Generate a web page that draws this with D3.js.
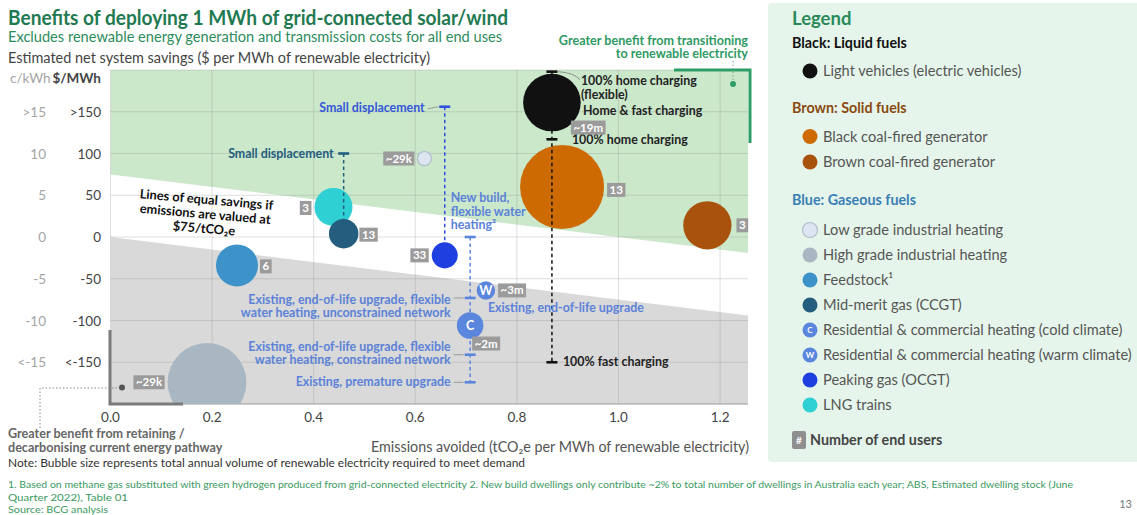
<!DOCTYPE html>
<html><head><meta charset="utf-8">
<script src="https://cdn.jsdelivr.net/npm/d3@7"></script>
<style>
body{margin:0;background:#fff;}
svg{display:block;font-family:Lato,"Open Sans",sans-serif;}
</style>
</head><body>
<svg id="c" width="1137" height="515"></svg>
<script>
// ---------------- DATA ----------------
const xTicks = [0, 0.2, 0.4, 0.6, 0.8, 1.0, 1.2];
const xTickLabels = ["0.0", "0.2", "0.4", "0.6", "0.8", "1.0", "1.2"];
const yTicks = [150, 100, 50, 0, -50, -100, -150];
const yTickLabelsMWh = [">150", "100", "50", "0", "-50", "-100", "<-150"];
const yTickLabelsKWh = [">15", "10", "5", "0", "-5", "-10", "<-15"];
const carbonPrice = 75;              // $/tCO2e
const equalSavingsLevels = [75, 0];  // $/MWh at zero emissions avoided

const endUses = [
  "Light vehicles (electric vehicles)",
  "Black coal-fired generator",
  "Brown coal-fired generator",
  "Low grade industrial heating",
  "High grade industrial heating",
  "Feedstock¹",
  "Mid-merit gas (CCGT)",
  "Residential & commercial heating (cold climate)",
  "Residential & commercial heating (warm climate)",
  "Peaking gas (OCGT)",
  "LNG trains"
];
const emissionsAvoided = [0.869, 0.889, 1.175, 0.618, 0.190, 0.249, 0.459, 0.708, 0.739, 0.658, 0.439];
const netSavings       = [161, 60, 14, 94, -174, -34, 4, -106, -64, -22, 36];
const renewableVolume  = [47, 100, 33, 2.8, 88, 25, 12.3, 10, 4.8, 9.6, 20.5];
const endUsers         = ["~19m", "13", "3", "~29k", "~29k", "6", "13", "~2m", "~3m", "33", "3"];
const bubbleMarks      = ["", "", "", "", "", "", "", "C", "W", "", ""];

const legendGroupTitles = ["Black: Liquid fuels", "Brown: Solid fuels", "Blue: Gaseous fuels"];
const legendGroupItems  = [[0], [1, 2], [3, 4, 5, 6, 7, 8, 9, 10]];

// ranges (sensitivities) per end use
const evRange = [198, 117, -150];
const evRangeLabels = ["100% home charging\n(flexible)", "100% home charging", "100% fast charging"];
const ccgtRange = [100];
const ccgtRangeLabels = ["Small displacement"];
const ocgtRange = [156];
const ocgtRangeLabels = ["Small displacement"];
const heatingRange = [0, -73, -141, -174];
const heatingRangeLabels = [
  "New build,\nflexible water\nheating²",
  "Existing, end-of-life upgrade, flexible\nwater heating, unconstrained network",
  "Existing, end-of-life upgrade, flexible\nwater heating, constrained network",
  "Existing, premature upgrade"
];
const evBubbleLabel = "Home & fast charging";
const warmBubbleLabel = "Existing, end-of-life upgrade";

// ---------------- STYLES ----------------
const bubbleColors = ["#111111", "#cd6a02", "#a8520d", "#dde6f0", "#a9b7c2", "#3d93c9", "#245d7e", "#5a86de", "#5a86de", "#1f3fe0", "#2fd0d3"];
const bubbleStrokes = [null, null, null, "#aebccb", null, null, null, null, null, null, null];
// user box placement: side, extra dx, extra dy
const userBoxPlace = [["br", 19, 18], ["r", 0, 3], ["r", 2, 0], ["l", 0, 0], ["l", 0, 0], ["r", -1, 1], ["r", -2, 1], ["br", 2, 11], ["r", 0, 0], ["l", 0, 0], ["l", 0, 1]];

const GREEN_T = "#1f7a52", GREEN = "#2f9a63";
const LAB = 12.4;
const svg = d3.select("#c");

const x = d3.scaleLinear().domain([0, 1.255]).range([110.5, 748]);
const y = d3.scaleLinear().domain([-200, 200]).range([404, 70]);
const rScale = d3.scaleSqrt().domain([0, 100]).range([0, 42]);
const [x0, x1] = x.range();
const [yb, yt] = y.range();
const xmax = x.domain()[1];

function multiText(g, str, px, py, lh, anchor) {
  const t = g.append("text").attr("x", px).attr("y", py).attr("text-anchor", anchor);
  str.split("\n").forEach((s, i) => t.append("tspan").attr("x", px).attr("dy", i ? lh : 0).text(s));
  return t;
}

// ---------------- HEADER ----------------
svg.append("text").attr("x", 8).attr("y", 25).attr("font-size", 20).attr("font-weight", 700)
  .attr("fill", GREEN_T).attr("textLength", 500).attr("lengthAdjust", "spacingAndGlyphs")
  .text("Benefits of deploying 1 MWh of grid-connected solar/wind");
svg.append("text").attr("x", 8).attr("y", 42).attr("font-size", 14.5).attr("fill", "#2c8c5c")
  .attr("textLength", 494).attr("lengthAdjust", "spacingAndGlyphs")
  .text("Excludes renewable energy generation and transmission costs for all end uses");
svg.append("text").attr("x", 8).attr("y", 63).attr("font-size", 14.5).attr("fill", "#444")
  .attr("textLength", 422).attr("lengthAdjust", "spacingAndGlyphs")
  .text("Estimated net system savings ($ per MWh of renewable electricity)");
svg.append("text").attr("x", 10).attr("y", 83).attr("font-size", 13.5).attr("fill", "#a5a5a5").text("c/kWh");
svg.append("text").attr("x", 101).attr("y", 83).attr("text-anchor", "end").attr("font-size", 13.5).attr("font-weight", 700).attr("fill", "#444").text("$/MWh");

// ---------------- PLOT BACKGROUND ----------------
svg.append("defs").append("clipPath").attr("id", "plotClip")
  .append("rect").attr("x", x0).attr("y", yt).attr("width", x1 - x0).attr("height", yb - yt);
const plot = svg.append("g").attr("clip-path", "url(#plotClip)");
const poly = d3.line().x(d => x(d[0])).y(d => y(d[1]));
const lvlHi = equalSavingsLevels[0], lvlLo = equalSavingsLevels[1];
plot.append("path").attr("fill", "#cbe8cb")
  .attr("d", poly([[0, 200], [xmax, 200], [xmax, lvlHi - carbonPrice * xmax], [0, lvlHi]]) + "Z");
plot.append("path").attr("fill", "#d9d9d9")
  .attr("d", poly([[0, lvlLo], [xmax, lvlLo - carbonPrice * xmax], [xmax, -200], [0, -200]]) + "Z");

// grid
const grid = svg.append("g").attr("stroke", "#8a8a8a").attr("stroke-opacity", 0.28).attr("stroke-width", 1);
xTicks.forEach(v => grid.append("line").attr("x1", x(v)).attr("x2", x(v)).attr("y1", yt).attr("y2", yb));
yTicks.concat([200]).forEach(v => grid.append("line").attr("x1", x0).attr("x2", x1).attr("y1", y(v)).attr("y2", y(v)));
svg.append("line").attr("x1", x0).attr("x2", x1).attr("y1", yb).attr("y2", yb).attr("stroke", "#9a9a9a").attr("stroke-width", 1.2);

// axes labels
xTicks.forEach((v, i) => svg.append("text").attr("x", x(v)).attr("y", 422).attr("text-anchor", "middle")
  .attr("font-size", 13.5).attr("fill", "#444").text(xTickLabels[i]));
yTicks.forEach((v, i) => {
  svg.append("text").attr("x", 101).attr("y", y(v) + 5).attr("text-anchor", "end").attr("font-size", 13.5).attr("fill", "#444").text(yTickLabelsMWh[i]);
  svg.append("text").attr("x", 46).attr("y", y(v) + 5).attr("text-anchor", "end").attr("font-size", 13.5).attr("fill", "#a5a5a5").text(yTickLabelsKWh[i]);
});
svg.append("text").attr("x", 749).attr("y", 452).attr("text-anchor", "end").attr("font-size", 14.5).attr("fill", "#555")
  .attr("textLength", 378).attr("lengthAdjust", "spacingAndGlyphs")
  .text("Emissions avoided (tCO₂e per MWh of renewable electricity)");

// ---------------- RANGES ----------------
const ranges = [
  {idx: 0, vals: evRange, labels: evRangeLabels, color: "#111", lab: "#222", top: true, w: 11,
   place: [["start", 29, 13.5], ["start", 20, 5], ["start", 11, 4]]},
  {idx: 6, vals: ccgtRange, labels: ccgtRangeLabels, color: "#245d7e", lab: "#245d7e", top: true, w: 11,
   place: [["end", -10, 4]]},
  {idx: 9, vals: ocgtRange, labels: ocgtRangeLabels, color: "#2f4fdc", lab: "#3556d8", top: true, w: 11, leader: [0],
   place: [["end", -20, 5]]},
  {idx: 7, vals: heatingRange, labels: heatingRangeLabels, color: "#5a86de", lab: "#5b82d8", top: false, w: 11, leader: [1, 2, 3],
   place: [["start", -19.5, -35], ["end", -19.5, 6], ["end", -19.5, -4], ["end", -19.5, 4]]}
];
const under = svg.append("g"), bubbleLayer = svg.append("g").attr("clip-path", "url(#plotClip)"), over = svg.append("g");

ranges.forEach(rg => {
  const g = rg.top ? over : under;
  const cx = x(emissionsAvoided[rg.idx]);
  const bv = netSavings[rg.idx];
  const br = rScale(renewableVolume[rg.idx]);
  const lo = d3.min(rg.vals), hi = d3.max(rg.vals);
  let yEnd = rg.vals.length > 1 ? y(lo) : y(bv) - br;
  g.append("line").attr("x1", cx).attr("x2", cx).attr("y1", y(hi)).attr("y2", yEnd)
    .attr("stroke", rg.color).attr("stroke-width", 1.5).attr("stroke-dasharray", "3.5,3");
  rg.vals.forEach((v, i) => {
    g.append("line").attr("x1", cx - rg.w / 2).attr("x2", cx + rg.w / 2).attr("y1", y(v)).attr("y2", y(v))
      .attr("stroke", rg.color).attr("stroke-width", 2.6);
    const [anc, dx, dy] = rg.place[i];
    multiText(g, rg.labels[i], cx + dx, y(v) + dy, 13.5, anc)
      .attr("font-size", LAB).attr("font-weight", 700).attr("fill", rg.lab);
    if (rg.leader && rg.leader.includes(i)) {
      g.append("line").attr("x1", cx + dx + 3).attr("x2", cx - rg.w / 2 - 1).attr("y1", y(v) + (i === 0 && rg.idx === 9 ? 2 : 0)).attr("y2", y(v))
        .attr("stroke", "#9a9a9a").attr("stroke-width", 1);
    }
  });
});
// EV top label leader
{
  const cx = x(emissionsAvoided[0]);
  over.append("path").attr("d", `M${cx + 6},${y(evRange[0])} Q${cx + 22},${y(evRange[0]) + 1} ${cx + 28},${y(evRange[0]) + 8}`)
    .attr("fill", "none").attr("stroke", "#777").attr("stroke-width", 0.8);
}

// ---------------- BUBBLES ----------------
const order = d3.range(endUses.length).sort((a, b) => renewableVolume[b] - renewableVolume[a]);
order.forEach(i => {
  const cx = x(emissionsAvoided[i]), cy = y(netSavings[i]), r = rScale(renewableVolume[i]);
  bubbleLayer.append("circle").attr("cx", cx).attr("cy", cy).attr("r", r)
    .attr("fill", bubbleColors[i]).attr("stroke", bubbleStrokes[i] || "none").attr("stroke-width", 1.2);
  if (bubbleMarks[i]) bubbleLayer.append("text").attr("x", cx).attr("y", cy + 4.5).attr("text-anchor", "middle")
    .attr("font-size", 12.5).attr("font-weight", 700).attr("fill", "#fff").text(bubbleMarks[i]);
});
svg.node().appendChild(over.node());

// user count boxes
const boxLayer = svg.append("g");
endUses.forEach((n, i) => {
  const cx = x(emissionsAvoided[i]), cy = y(netSavings[i]), r = rScale(renewableVolume[i]);
  const [side, dx, dy] = userBoxPlace[i];
  const t = boxLayer.append("text").attr("font-size", 11.5).attr("font-weight", 700).attr("fill", "#fff").text(endUsers[i]);
  const tw = t.node().getComputedTextLength();
  const bw = tw + 5, bh = 14;
  let bx, by;
  if (side === "r") { bx = cx + r + 3 + dx; by = cy - bh / 2 + dy; }
  else if (side === "l") { bx = cx - r - 3 - bw + dx; by = cy - bh / 2 + dy; }
  else { bx = cx + dx; by = cy + dy; }
  boxLayer.insert("rect", "text").attr("x", bx).attr("y", by).attr("width", bw).attr("height", bh).attr("fill", "#9b9b9b");
  t.attr("x", bx + bw / 2).attr("y", by + 11).attr("text-anchor", "middle");
});

// bubble annotations
{
  const cx = x(emissionsAvoided[0]), cy = y(netSavings[0]);
  over.append("text").attr("x", cx + 31).attr("y", cy + 12).attr("font-size", LAB).attr("font-weight", 700).attr("fill", "#222").text(evBubbleLabel);
  const wx = x(emissionsAvoided[8]), wy = y(netSavings[8]);
  over.append("text").attr("x", wx + 2).attr("y", wy + 22).attr("font-size", LAB).attr("font-weight", 700).attr("fill", "#5b82d8").text(warmBubbleLabel);
}

// lines of equal savings text
{
  const g = svg.append("g").attr("transform", "rotate(5,205,217)");
  multiText(g, "Lines of equal savings if\nemissions are valued at\n$75/tCO₂e", 205, 204, 14.5, "middle")
    .attr("font-size", 12.8).attr("font-weight", 700).attr("fill", "#111");
}

// green bracket annotation
svg.append("text").attr("x", 748).attr("y", 45).attr("text-anchor", "end").attr("font-size", 12.6).attr("font-weight", 700).attr("fill", GREEN).text("Greater benefit from transitioning");
svg.append("text").attr("x", 748).attr("y", 58).attr("text-anchor", "end").attr("font-size", 12.6).attr("font-weight", 700).attr("fill", GREEN).text("to renewable electricity");
svg.append("path").attr("d", `M674,70 H750 V143`).attr("fill", "none").attr("stroke", "#2e9e68").attr("stroke-width", 3);
svg.append("line").attr("x1", 733).attr("x2", 733).attr("y1", 61).attr("y2", 83).attr("stroke", "#7aa88a").attr("stroke-width", 1).attr("stroke-dasharray", "1.5,2");
svg.append("circle").attr("cx", 733).attr("cy", 84).attr("r", 3).attr("fill", "#2e9e68");

// grey bracket annotation
svg.append("path").attr("d", `M110,330 V404 H183`).attr("fill", "none").attr("stroke", "#7b7b7b").attr("stroke-width", 3);
svg.append("path").attr("d", `M40,428 V388 H118`).attr("fill", "none").attr("stroke", "#888").attr("stroke-width", 1).attr("stroke-dasharray", "1.5,2");
svg.append("circle").attr("cx", 122).attr("cy", 387.5).attr("r", 3).attr("fill", "#555");
svg.append("text").attr("x", 8).attr("y", 438).attr("font-size", 12.6).attr("font-weight", 700).attr("fill", "#666").text("Greater benefit from retaining /");
svg.append("text").attr("x", 8).attr("y", 452).attr("font-size", 12.6).attr("font-weight", 700).attr("fill", "#666").text("decarbonising current energy pathway");

// notes
svg.append("text").attr("x", 8).attr("y", 467).attr("font-size", 11.5).attr("fill", "#333")
  .attr("textLength", 517).attr("lengthAdjust", "spacingAndGlyphs")
  .text("Note: Bubble size represents total annual volume of renewable electricity required to meet demand");
const foot = ["1. Based on methane gas substituted with green hydrogen produced from grid-connected electricity 2. New build dwellings only contribute ~2% to total number of dwellings in Australia each year; ABS, Estimated dwelling stock (June",
  "Quarter 2022), Table 01", "Source: BCG analysis"];
const footW = [1065, 120, 100];
foot.forEach((s, i) => svg.append("text").attr("x", 8).attr("y", 488 + i * 12.5).attr("font-size", 10).attr("fill", "#3b9a62")
  .attr("textLength", footW[i]).attr("lengthAdjust", "spacingAndGlyphs").text(s));
svg.append("text").attr("x", 1132).attr("y", 508).attr("text-anchor", "end").attr("font-size", 11).attr("fill", "#777").text("13");

// ---------------- LEGEND ----------------
const lg = svg.append("g");
lg.append("rect").attr("x", 768).attr("y", 3).attr("width", 372).attr("height", 459).attr("rx", 4).attr("fill", "#e6f5eb");
lg.append("text").attr("x", 792).attr("y", 25).attr("font-size", 18.5).attr("font-weight", 700).attr("fill", "#2a8a5a").text("Legend");
const groupColors = ["#111", "#8a4a10", "#3a7fb5"];
const groupY = [48, 113, 205];
const itemY = [[71], [136.5, 162], [230, 255, 280, 305, 330, 355, 380, 405]];
legendGroupTitles.forEach((tt, gi) => {
  lg.append("text").attr("x", 792).attr("y", groupY[gi]).attr("font-size", 14.3).attr("font-weight", 700).attr("fill", groupColors[gi]).text(tt);
  legendGroupItems[gi].forEach((idx, k) => {
    const cy = itemY[gi][k];
    lg.append("circle").attr("cx", 810).attr("cy", cy).attr("r", 7.5).attr("fill", bubbleColors[idx])
      .attr("stroke", bubbleStrokes[idx] || "none").attr("stroke-width", 1.2);
    if (bubbleMarks[idx]) lg.append("text").attr("x", 810).attr("y", cy + 3).attr("text-anchor", "middle")
      .attr("font-size", 8).attr("font-weight", 700).attr("fill", "#fff").text(bubbleMarks[idx]);
    lg.append("text").attr("x", 823).attr("y", cy + 5).attr("font-size", 14.6).attr("fill", "#555").text(endUses[idx]);
  });
});
lg.append("rect").attr("x", 792).attr("y", 431).attr("width", 14).attr("height", 18).attr("rx", 2).attr("fill", "#8f8f8f");
lg.append("text").attr("x", 799).attr("y", 444).attr("text-anchor", "middle").attr("font-size", 10).attr("font-weight", 700).attr("fill", "#fff").text("#");
lg.append("text").attr("x", 810).attr("y", 445).attr("font-size", 14.3).attr("font-weight", 700).attr("fill", "#444").text("Number of end users");
</script>
</body></html>
